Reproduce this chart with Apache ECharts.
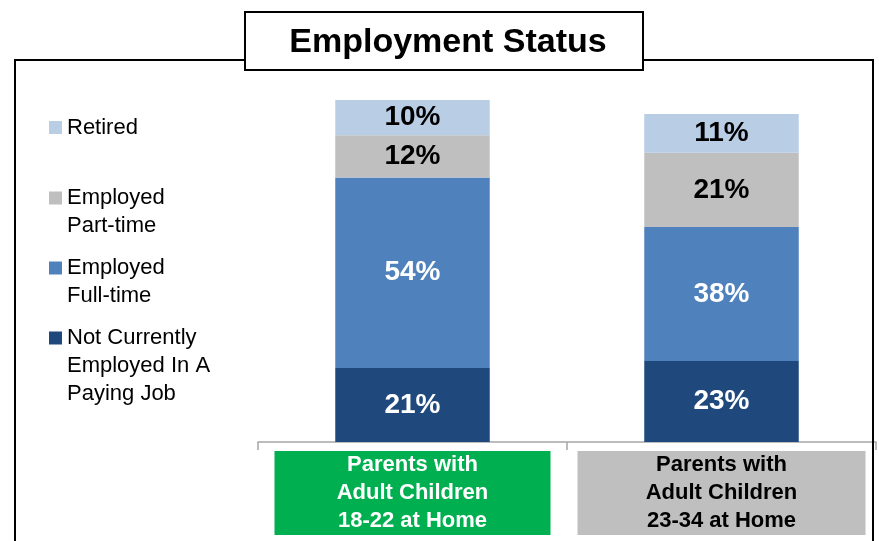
<!DOCTYPE html>
<html>
<head>
<meta charset="utf-8">
<script src="https://cdn.jsdelivr.net/npm/echarts@6/dist/echarts.min.js"></script>
<style>
  html, body { margin: 0; padding: 0; background: #fff; }
  #chart { width: 879px; height: 541px; }
</style>
</head>
<body>
<div id="chart"></div>
<script>
// Employment status of parents, by age of adult children living at home (%)
const groups = ['Parents with\nAdult Children\n18-22 at Home', 'Parents with\nAdult Children\n23-34 at Home'];
const seriesNames = ['Not Currently\nEmployed In A\nPaying Job', 'Employed\nFull-time', 'Employed\nPart-time', 'Retired'];
const notEmployed = [21, 23];
const fullTime = [54, 38];
const partTime = [12, 21];
const retired = [10, 11];

const seriesValues = [notEmployed, fullTime, partTime, retired];
const colors = ['#1f497d', '#4f81bd', '#bfbfbf', '#b9cde5'];
const labelColors = ['#ffffff', '#ffffff', '#000000', '#000000'];
// Coloured boxes behind the group names
const groupBoxes = [
  { backgroundColor: '#00b050', color: '#ffffff', width: 276 },
  { backgroundColor: '#bfbfbf', color: '#000000', width: 288 }
];

const FONT = '"Liberation Sans", Arial, sans-serif';

// Legend drawn top-down: Retired first, Not Currently last
const legendOrder = [3, 2, 1, 0];
const legendFirstLine = [127.5, 198, 268, 338];
const legendGraphics = [];
legendOrder.forEach((si, i) => {
  const cy = legendFirstLine[i];
  legendGraphics.push({
    type: 'rect', shape: { x: 49, y: cy - 6.5, width: 13, height: 13 },
    style: { fill: colors[si] }, z: 10
  });
  legendGraphics.push({
    type: 'text', x: 67, y: cy - 14,
    style: { text: seriesNames[si], font: '22px ' + FONT, fill: '#000', lineHeight: 28, verticalAlign: 'top' },
    z: 10
  });
});

const chart = echarts.init(document.getElementById('chart'), null, { renderer: 'canvas' });
chart.setOption({
  backgroundColor: '#ffffff',
  animation: false,
  title: {
    text: 'Employment Status',
    left: 443, top: 21, textAlign: 'center',
    textStyle: { fontFamily: FONT, fontSize: 34, fontWeight: 'bold', color: '#000' },
    z: 20
  },
  graphic: [
    { type: 'rect', shape: { x: 15, y: 60, width: 858, height: 520 },
      style: { fill: 'none', stroke: '#000', lineWidth: 2 }, z: 1 },
    { type: 'rect', shape: { x: 245, y: 12, width: 398, height: 58 },
      style: { fill: '#fff', stroke: '#000', lineWidth: 2 }, z: 2 }
  ].concat(legendGraphics),
  grid: { left: 258, right: 3, top: 89.4, bottom: 99, containLabel: false },
  xAxis: {
    type: 'category',
    data: groups.map((g, i) => ({
      value: g,
      textStyle: {
        backgroundColor: groupBoxes[i].backgroundColor,
        color: groupBoxes[i].color,
        width: groupBoxes[i].width,
        height: 84,
        lineHeight: 28,
        align: 'center'
      }
    })),
    axisLine: { lineStyle: { color: '#a6a6a6', width: 1.5 } },
    axisTick: { show: true, length: 8, lineStyle: { color: '#a6a6a6', width: 1.5 } },
    axisLabel: { margin: 9, fontFamily: FONT, fontSize: 22, fontWeight: 'bold', lineHeight: 28, interval: 0 }
  },
  yAxis: { type: 'value', min: 0, max: 100, show: false, splitLine: { show: false } },
  series: seriesValues.map((vals, si) => ({
    name: seriesNames[si],
    type: 'bar',
    stack: 'total',
    barWidth: '50%',
    data: vals,
    itemStyle: { color: colors[si] },
    label: {
      show: true, position: 'inside',
      formatter: p => p.value + '%',
      fontFamily: FONT, fontSize: 28, fontWeight: 'bold',
      color: labelColors[si]
    }
  }))
});
</script>
</body>
</html>
